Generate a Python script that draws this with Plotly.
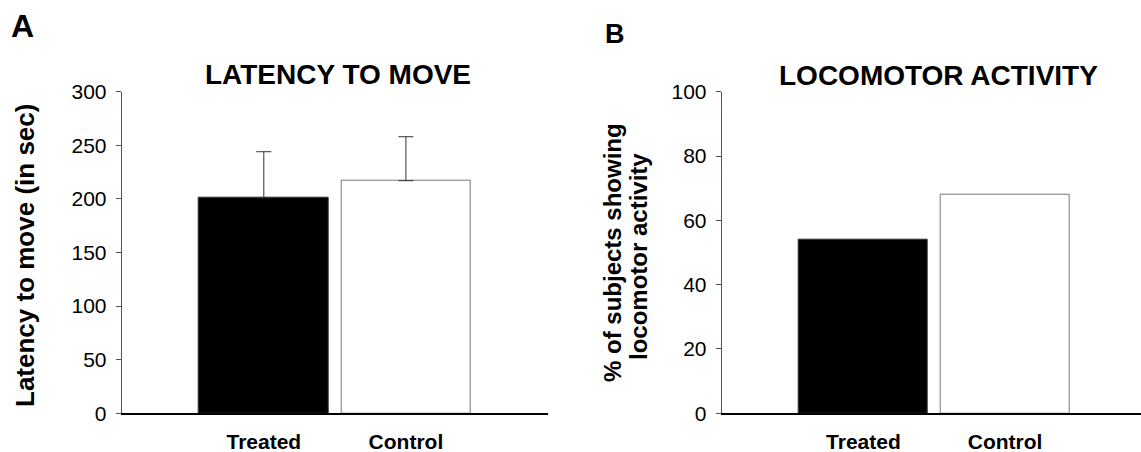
import plotly.graph_objects as go

categories = ["Treated", "Control"]
latency_values = [201, 217]
latency_err_plus = [43, 41]
latency_err_minus = [0, 0]
activity_values = [54, 68]
latency_ticks = [0, 50, 100, 150, 200, 250, 300]
activity_ticks = [0, 20, 40, 60, 80, 100]
bar_fills = ["#000000", "#ffffff"]
bar_lines = ["#333333", "#777777"]

W, H = 1141, 452
FONT = "Liberation Sans, Arial, Helvetica, sans-serif"


def px(x):
    return x / W


def py(y):
    return 1 - y / H


fig = go.Figure()
fig.add_trace(go.Bar(
    x=categories, y=latency_values, width=0.91,
    marker=dict(color=bar_fills, line=dict(color=bar_lines, width=1)),
    error_y=dict(type="data", symmetric=False, array=latency_err_plus,
                 arrayminus=latency_err_minus, color="#333333",
                 thickness=1, width=7.5),
    xaxis="x", yaxis="y", showlegend=False, hoverinfo="skip"))
fig.add_trace(go.Bar(
    x=categories, y=activity_values, width=0.91,
    marker=dict(color=bar_fills, line=dict(color=bar_lines, width=1)),
    xaxis="x2", yaxis="y2", showlegend=False, hoverinfo="skip"))

ydom = [py(413.3), py(91.7)]

xcommon = dict(showline=True, linecolor="black", linewidth=2, ticks="",
               showgrid=False, zeroline=False, type="category", automargin=False,
               tickfont=dict(family=FONT, size=21, color="black", weight="bold"),
               ticklabelstandoff=8)
ycommon = dict(showline=True, linecolor="#555555", linewidth=1, ticks="outside",
               ticklen=5, tickcolor="#555555", tickwidth=1, showgrid=False,
               zeroline=False, automargin=False, ticklabelstandoff=5,
               tickfont=dict(family=FONT, size=21, color="black"))

fig.update_layout(
    width=W, height=H,
    margin=dict(l=0, r=0, t=0, b=0, pad=0, autoexpand=False),
    paper_bgcolor="white", plot_bgcolor="white",
    showlegend=False,
    xaxis=dict(domain=[px(121.7), px(548)], range=[-1, 2], anchor="y", **xcommon),
    yaxis=dict(domain=ydom, range=[0, 300], tickvals=latency_ticks, anchor="x", **ycommon),
    xaxis2=dict(domain=[px(721.7), 1.0], range=[-1, 1.959], anchor="y2", **xcommon),
    yaxis2=dict(domain=ydom, range=[0, 100], tickvals=activity_ticks, anchor="x2", **ycommon),
    bargap=0,
)

def ann(text, x, y, size, angle=0):
    fig.add_annotation(text=text, x=px(x), y=py(y), xref="paper", yref="paper",
                       xanchor="center", yanchor="middle", showarrow=False,
                       textangle=angle,
                       font=dict(family=FONT, size=size, color="black", weight="bold"))

ann("A", 22, 26, 32)
ann("B", 615, 34, 27)
ann("LATENCY TO MOVE", 338.3, 75, 28)
ann("LOCOMOTOR ACTIVITY", 938.5, 75.5, 28)
ann("Latency to move (in sec)", 25.5, 255.5, 26, -90)
ann("% of subjects showing", 612, 253, 24, -90)
ann("locomotor activity", 638, 257, 24, -90)

fig.write_html("out.html")
